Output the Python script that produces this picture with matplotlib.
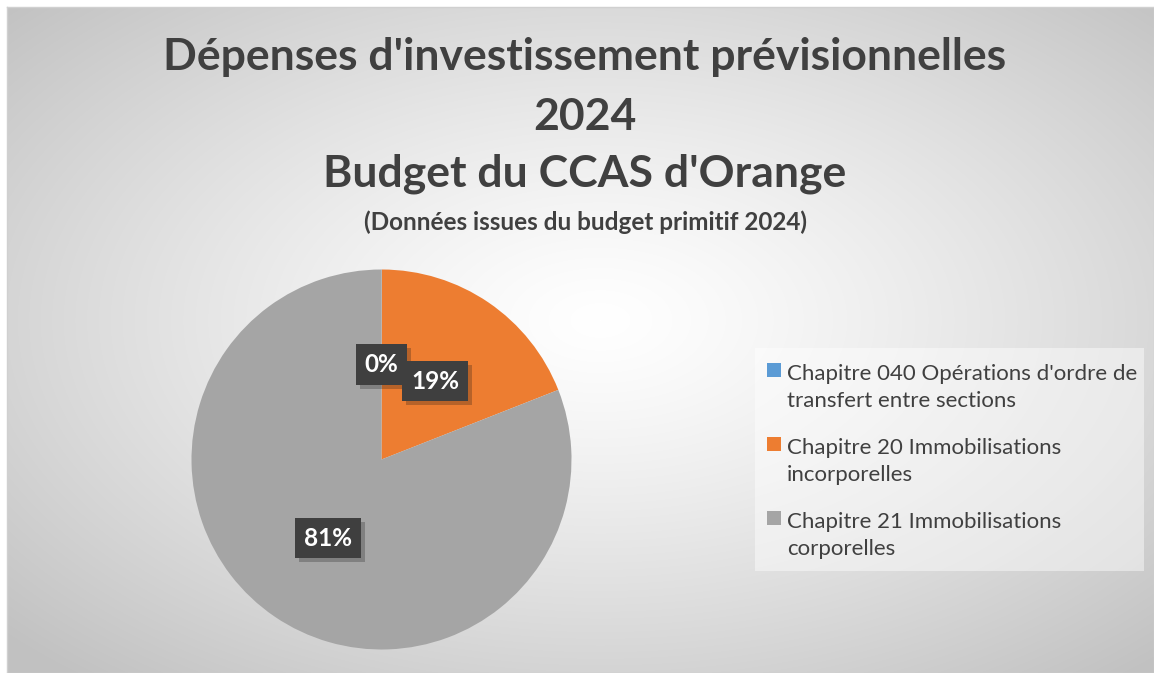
import matplotlib.pyplot as plt
import matplotlib.patheffects as pe
import numpy as np

# data
categories = ["Chapitre 040 Opérations d'ordre de\ntransfert entre sections",
              "Chapitre 20 Immobilisations\nincorporelles",
              "Chapitre 21 Immobilisations\ncorporelles"]
shares = [0.03, 19.0, 80.97]
colors = ['#5B9BD5', '#ED7D31', '#A5A5A5']

title_lines = ["Dépenses d'investissement prévisionnelles", "2024", "Budget du CCAS d'Orange"]
subtitle = "(Données issues du budget primitif 2024)"

W, H = 1154, 673
TXT = '#404040'
plt.rcParams['font.family'] = ['Lato', 'DejaVu Sans']

fig = plt.figure(figsize=(W / 100, H / 100), dpi=100)
fig.patch.set_facecolor('white')

# gradient background of the chart area
x0, y0 = 7, 7
bg = fig.add_axes([x0 / W, 0, 1 - x0 / W, 1 - y0 / H])
xx, yy = np.meshgrid(np.arange(x0, W), np.arange(y0, H))
cx, cy = 600, 320
d = np.sqrt(((xx - cx) / ((W - x0) / 2)) ** 2 + ((yy - cy) / ((H - y0) / 2)) ** 2)
d = np.clip(d / np.sqrt(2), 0, 1)
g = (255 - 62 * d ** 1.25) / 255
bg.imshow(np.dstack([g, g, g]), aspect='auto', interpolation='bilinear')
bg.set_xticks([])
bg.set_yticks([])
for s in bg.spines.values():
    s.set_color('#d0d0d0')
    s.set_linewidth(1)

# titles
tx = 585 / W
for txt, yb in zip(title_lines, [70, 130, 187]):
    fig.text(tx, 1 - yb / H, txt, ha='center', va='baseline', fontsize=32,
             fontweight='bold', color=TXT)
fig.text(tx, 1 - 230 / H, subtitle, ha='center', va='baseline', fontsize=17.5,
         fontweight='bold', color=TXT)

# pie
pcx, pcy, r = 381.5, 459.5, 190
ax = fig.add_axes([(pcx - r) / W, 1 - (pcy + r) / H, 2 * r / W, 2 * r / H])
wedges, texts, autotexts = ax.pie(shares, colors=colors, startangle=90, counterclock=False,
                                  autopct=lambda p: f'{p:.0f}%', pctdistance=0.5,
                                  wedgeprops=dict(linewidth=0))
ax.set_xlim(-1, 1)
ax.set_ylim(-1, 1)
ax.set_aspect('equal')
for t in autotexts:
    t.set_color('white')
    t.set_fontsize(17.5)
    t.set_fontweight('bold')
    t.set_bbox(dict(boxstyle='square,pad=0.36', facecolor='#3f3f3f', linewidth=0))
    t.get_bbox_patch().set_path_effects([pe.SimplePatchShadow(offset=(3, -3), alpha=0.25),
                                         pe.Normal()])

# legend drawn by hand
lg = fig.add_axes([755 / W, 1 - 571 / H, (1144 - 755) / W, (571 - 348) / H])
lg.set_facecolor((1, 1, 1, 0.45))
lg.set_xticks([])
lg.set_yticks([])
for s in lg.spines.values():
    s.set_visible(False)
for i, (lab, c) in enumerate(zip(categories, colors)):
    yb = 378 + 74 * i
    fig.patches.append(plt.Rectangle((767 / W, 1 - (yb - 1) / H), 14 / W, 14 / H,
                                     facecolor=c, transform=fig.transFigure, figure=fig))
    # va='baseline' lines up the last line, so aim at the second line's baseline
    fig.text(787 / W, 1 - (yb + 29) / H, lab, ha='left', va='baseline', fontsize=16,
             color=TXT, linespacing=1.45)

fig.savefig('out.png', dpi=100)
